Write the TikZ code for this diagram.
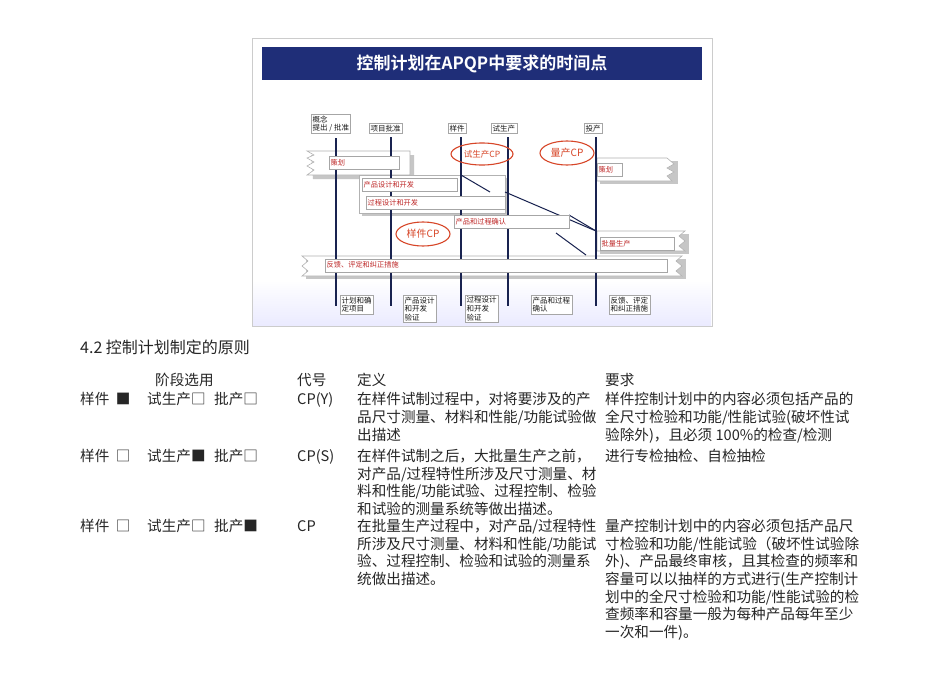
\documentclass[tikz,border=0pt]{standalone}
\usepackage{fontspec}
\usetikzlibrary{shapes.geometric}
\setmainfont{Noto Sans CJK SC}
\newfontfamily\cjkb{Noto Sans CJK SC Bold}
\begin{document}
\begin{tikzpicture}[x=1pt,y=-1pt,
  navy/.style={draw=none,fill={rgb,255:red,31;green,46;blue,120}},
  vline/.style={line width=2.6pt,draw={rgb,255:red,25;green,35;blue,80}},
  toplab/.style={draw=gray!70,fill=white,inner sep=1.5pt,font=\fontsize{7.5}{8}\selectfont,text=gray!20!black,align=left,anchor=north west},
  inbox/.style={draw=gray!70,fill=white,inner sep=1.5pt,anchor=north west,font=\fontsize{7.2}{8}\selectfont,text={rgb,255:red,190;green,40;blue,40},minimum height=13pt,text height=6pt,align=left},
  band/.style={draw=gray!60,fill=white,line width=0.6pt},
  shadow/.style={fill=gray!45,draw=none},
  diag/.style={line width=1pt,draw={rgb,255:red,25;green,35;blue,80}},
  cpell/.style={draw={rgb,255:red,215;green,70;blue,40},line width=1.1pt,ellipse,fill=none},
  cptext/.style={text={rgb,255:red,215;green,70;blue,40},font=\fontsize{8.5}{9}\selectfont},
  botbox/.style={draw=gray!70,fill=white,inner sep=1.5pt,anchor=north west,align=left,font=\fontsize{7.5}{8.8}\selectfont,text=gray!20!black},
  body/.style={anchor=base west,inner sep=0pt,font=\fontsize{14.6}{15}\selectfont,text=black!85}]
\useasboundingbox (0,0) rectangle (950,672);
\fill[white] (0,0) rectangle (950,672);
% slide frame
\draw[gray!40,fill=white] (252,38) rectangle (712,326);
\shade[top color=white,bottom color=blue!8] (253,280) rectangle (711,325);
\fill[navy] (262,47) rectangle (702,80);
\node[text=white,font=\cjkb\fontsize{17}{18}\selectfont] (title) at (482,64) {控制计划在APQP中要求的时间点};
% left planning band
\fill[shadow] (311,155) -- (414,155) -- (414,179) -- (313,179) -- cycle;
\draw[band] (307,151) -- (410,151) -- (410,175) -- (307,175) -- (314,170) -- (307,166) -- (314,162) -- (307,158) -- (314,155) -- cycle;
% product/process design big box
\fill[shadow] (362,178) rectangle (508,216);
\draw[band] (359,175) rectangle (505,213);
% right planning band
\fill[shadow] (600,161) rectangle (678,184);
\draw[band] (597,158) -- (667,158) -- (674,164) -- (667,168) -- (674,172) -- (667,176) -- (672,181) -- (597,181) -- cycle;
% batch band
\fill[shadow] (600,234) rectangle (689,254);
\draw[band] (597,231) -- (685,231) -- (679,236) -- (685,241) -- (679,246) -- (685,251) -- (597,251) -- cycle;
% feedback band
\fill[shadow] (306,259) rectangle (686,279);
\draw[band] (302,256) -- (682,256) -- (676,261) -- (682,266) -- (676,271) -- (682,276) -- (302,276) -- (308,271) -- (302,266) -- (308,261) -- cycle;
% diagonals
\draw[diag] (461,175) -- (490,192);
\draw[diag] (505,192) -- (596,231);
\draw[diag] (569,215) -- (596,231);
\draw[diag] (556,233) -- (586,255);
% vertical lines
\coordinate (v1t) at (336,138); \coordinate (v1b) at (336,306);
\coordinate (v2t) at (391,137); \coordinate (v2b) at (391,306);
\coordinate (v3t) at (461,137); \coordinate (v3b) at (461,306);
\coordinate (v4t) at (508,137); \coordinate (v4b) at (508,306);
\coordinate (v5t) at (596,137); \coordinate (v5b) at (596,306);
\foreach \i in {1,...,5} \draw[vline] (v\i t) -- (v\i b);
% inner boxes
\node[inbox,text width=67pt] (ch1) at (329,156) {策划};
\node[inbox,text width=92pt] (pd) at (362,178) {产品设计和开发};
\node[inbox,text width=136pt] (prd) at (366,196) {过程设计和开发};
\node[inbox,text width=112pt] (ppv) at (454,215) {产品和过程确认};
\node[inbox,text width=22pt] (ch2) at (597,163) {策划};
\node[inbox,text width=71pt] (bp) at (600,237) {批量生产};
\node[inbox,text width=339pt] (fb) at (325,258.5) {反馈、评定和纠正措施};
% top labels
\node[toplab] (l1) at (311,114) {概念\\提出 / 批准};
\node[toplab] (l2) at (369,123) {项目批准};
\node[toplab] (l3) at (448,123) {样件};
\node[toplab] (l4) at (491,123) {试生产};
\node[toplab] (l5) at (584,123) {投产};
% CP ellipses
\node[cpell,minimum width=62pt,minimum height=22pt] (e1) at (482,154) {};
\node[cptext] at (e1) {试生产CP};
\node[cpell,minimum width=54pt,minimum height=24pt] (e2) at (567,153) {};
\node[cptext,font=\fontsize{10}{10}\selectfont] at (e2) {量产CP};
\node[cpell,minimum width=54pt,minimum height=24pt] (e3) at (423,234) {};
\node[cptext,font=\fontsize{10}{10}\selectfont] at (e3) {样件CP};
% bottom boxes
\node[botbox] (b1) at (340,295) {计划和确\\定项目};
\node[botbox] (b2) at (403,295) {产品设计\\和开发\\验证};
\node[botbox] (b3) at (465,295) {过程设计\\和开发\\验证};
\node[botbox] (b4) at (531,295) {产品和过程\\确认};
\node[botbox] (b5) at (609,295) {反馈、评定\\和纠正措施};
\fill[white] (240,326.5) rectangle (720,336);
\draw[gray!40] (252,326) -- (712,326);
% text below
\node[body,font=\fontsize{16}{17}\selectfont] (h) at (80,353) {4.2 控制计划制定的原则};
\node[body] (c1) at (155,385) {阶段选用};
\node[body] (c2) at (297,385) {代号};
\node[body] (c3) at (357,385) {定义};
\node[body] (c4) at (605,385) {要求};
% row 1
\node[body] (r1a) at (80,404) {样件 \ ■};
\node[body] (r1b) at (147,404) {试生产□};
\node[body] (r1c) at (214,404) {批产□};
\node[body] (r1d) at (297,404) {CP(Y)};
\node[body] (r1e) at (357,404) {在样件试制过程中，对将要涉及的产};
\node[body] at (357,422) {品尺寸测量、材料和性能/功能试验做};
\node[body] at (357,440) {出描述};
\node[body] (r1f) at (605,404) {样件控制计划中的内容必须包括产品的};
\node[body] at (605,422) {全尺寸检验和功能/性能试验(破坏性试};
\node[body] at (605,440) {验除外)，且必须 100\%的检查/检测};
% row 2
\node[body] (r2a) at (80,461) {样件 \ □};
\node[body] (r2b) at (147,461) {试生产■};
\node[body] (r2c) at (214,461) {批产□};
\node[body] (r2d) at (297,461) {CP(S)};
\node[body] (r2e) at (357,461) {在样件试制之后，大批量生产之前，};
\node[body] at (357,479) {对产品/过程特性所涉及尺寸测量、材};
\node[body] at (357,496) {料和性能/功能试验、过程控制、检验};
\node[body] at (357,514) {和试验的测量系统等做出描述。};
\node[body] (r2f) at (605,461) {进行专检抽检、自检抽检};
% row 3
\node[body] (r3a) at (80,531) {样件 \ □};
\node[body] (r3b) at (147,531) {试生产□};
\node[body] (r3c) at (214,531) {批产■};
\node[body] (r3d) at (297,531) {CP};
\node[body] (r3e) at (357,531) {在批量生产过程中，对产品/过程特性};
\node[body] at (357,549) {所涉及尺寸测量、材料和性能/功能试};
\node[body] at (357,566) {验、过程控制、检验和试验的测量系};
\node[body] at (357,584) {统做出描述。};
\node[body] (r3f) at (605,531) {量产控制计划中的内容必须包括产品尺};
\node[body] at (605,549) {寸检验和功能/性能试验（破坏性试验除};
\node[body] at (605,566) {外)、产品最终审核，且其检查的频率和};
\node[body] at (605,584) {容量可以以抽样的方式进行(生产控制计};
\node[body] at (605,602) {划中的全尺寸检验和功能/性能试验的检};
\node[body] at (605,619) {查频率和容量一般为每种产品每年至少};
\node[body] at (605,637) {一次和一件)。};
\end{tikzpicture}
\end{document}
